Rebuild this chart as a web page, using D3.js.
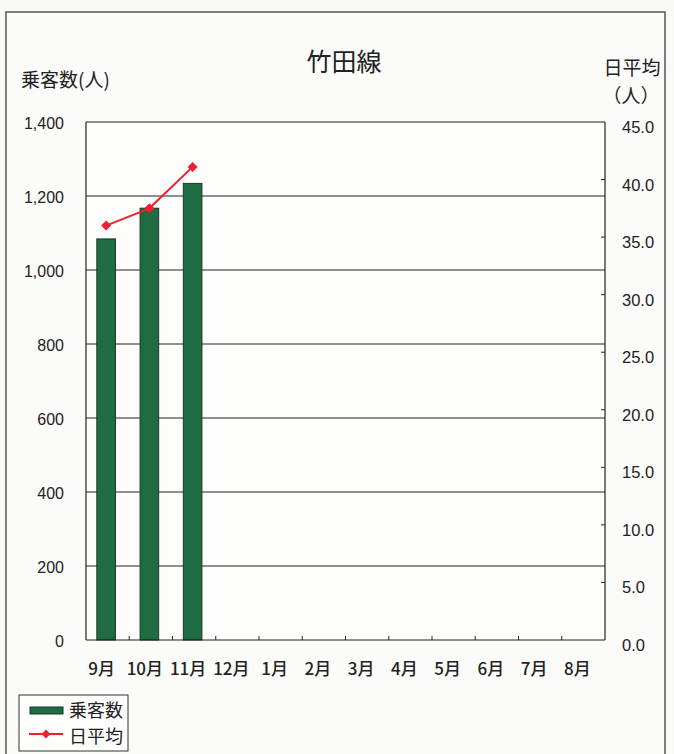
<!DOCTYPE html>
<html><head><meta charset="utf-8">
<script src="https://cdn.jsdelivr.net/npm/d3@7"></script>
<style>body{margin:0;background:#f8f8f6;}svg{display:block;}</style>
</head><body>
<svg id="c" width="674" height="754"></svg>
<script>
const months = ["9月","10月","11月","12月","1月","2月","3月","4月","5月","6月","7月","8月"];
const passengers = [1084, 1167, 1234, null, null, null, null, null, null, null, null, null];
const dailyAvg = [36.0, 37.5, 41.1, null, null, null, null, null, null, null, null, null];
const leftTicks = [0,200,400,600,800,1000,1200,1400];
const rightTicks = [0,5,10,15,20,25,30,35,40,45];

const svg = d3.select("#c");
const font = "'Liberation Sans', Arial, 'Noto Sans CJK JP', sans-serif";
const jfont = "'Noto Sans CJK JP', sans-serif";
const L = 86, R = 605, T = 122, B = 640;

// outer frame
svg.append("rect").attr("x",6).attr("y",12).attr("width",659).attr("height",760)
  .attr("fill","#fbfbf9").attr("stroke","#555").attr("stroke-width",1.5);

const x = d3.scaleBand().domain(months).range([L-3,R-3]).paddingInner(0.57).paddingOuter(0.285);
const xb = d3.scaleBand().domain(months).range([L,R]);
const yL = d3.scaleLinear().domain([0,1400]).range([B,T]);
const yR = d3.scaleLinear().domain([0,45]).range([B,T]);

svg.append("rect").attr("x",L).attr("y",T).attr("width",R-L).attr("height",B-T).attr("fill","#fdfdfc");

// gridlines
svg.append("g").selectAll("line").data(leftTicks.filter(d=>d>0)).join("line")
  .attr("x1",L).attr("x2",R).attr("y1",d=>yL(d)).attr("y2",d=>yL(d))
  .attr("stroke","#222").attr("stroke-width",1);

// bars
svg.append("g").selectAll("rect").data(months.map((m,i)=>({m,v:passengers[i]})).filter(d=>d.v!=null)).join("rect")
  .attr("x",d=>x(d.m)+1.5).attr("width",x.bandwidth())
  .attr("y",d=>yL(d.v)).attr("height",d=>B-yL(d.v))
  .attr("fill","#1f6b42").attr("stroke","#163a26").attr("stroke-width",1);

// axes lines
svg.append("line").attr("x1",L).attr("x2",L).attr("y1",T).attr("y2",B).attr("stroke","#222").attr("stroke-width",1.2);
svg.append("line").attr("x1",R).attr("x2",R).attr("y1",T).attr("y2",B).attr("stroke","#222").attr("stroke-width",1.2);
svg.append("line").attr("x1",L).attr("x2",R).attr("y1",B).attr("y2",B).attr("stroke","#222").attr("stroke-width",1.2);

// x ticks (inside) at band boundaries
svg.append("g").selectAll("line").data(months.slice(1)).join("line")
  .attr("x1",d=>xb(d)).attr("x2",d=>xb(d)).attr("y1",B).attr("y2",B-4)
  .attr("stroke","#222");
// right ticks inside
svg.append("g").selectAll("line").data(rightTicks.slice(1,-1)).join("line")
  .attr("x1",R-4).attr("x2",R).attr("y1",d=>yR(d)).attr("y2",d=>yR(d)).attr("stroke","#222");

// left tick labels
svg.append("g").selectAll("text").data(leftTicks).join("text")
  .attr("x",64).attr("y",d=>yL(d)+7).attr("text-anchor","end")
  .attr("font-family",font).attr("font-size",16).attr("fill","#222")
  .text(d=>d3.format(",")(d));
// right tick labels
svg.append("g").selectAll("text").data(rightTicks).join("text")
  .attr("x",622).attr("y",d=>yR(d)+11).attr("text-anchor","start")
  .attr("font-family",font).attr("font-size",16.5).attr("fill","#222")
  .text(d=>d.toFixed(1));
// x labels
svg.append("g").selectAll("text").data(months).join("text")
  .attr("x",d=>xb(d)+xb.bandwidth()/2-6).attr("y",675).attr("text-anchor","middle")
  .attr("font-family",jfont).attr("font-weight",500).attr("font-size",17).attr("fill","#222")
  .text(d=>d);

// line
const pts = months.map((m,i)=>({m,v:dailyAvg[i]})).filter(d=>d.v!=null);
const px = d=>x(d.m)+1.5+x.bandwidth()/2;
svg.append("path").datum(pts)
  .attr("d",d3.line().x(px).y(d=>yR(d.v)))
  .attr("fill","none").attr("stroke","#ee2030").attr("stroke-width",2);
svg.append("g").selectAll("path").data(pts).join("path")
  .attr("transform",d=>`translate(${px(d)},${yR(d.v)})`)
  .attr("d",d3.symbol(d3.symbolDiamond2,64)())
  .attr("fill","#ee2030");

// titles
svg.append("text").attr("x",344).attr("y",71).attr("text-anchor","middle")
  .attr("font-family",jfont).attr("font-size",25).attr("fill","#222").text("竹田線");
svg.append("text").attr("x",21).attr("y",87)
  .attr("font-family",jfont).attr("font-size",19).attr("fill","#222").text("乗客数(人)");
svg.append("text").attr("x",632).attr("y",75).attr("text-anchor","middle")
  .attr("font-family",jfont).attr("font-size",19).attr("fill","#222").text("日平均");
svg.append("text").attr("x",631).attr("y",103).attr("text-anchor","middle")
  .attr("font-family",jfont).attr("font-size",19).attr("fill","#222").text("（人）");

// legend
const lg = svg.append("g");
lg.append("rect").attr("x",19).attr("y",695).attr("width",109).attr("height",56)
  .attr("fill","#fdfdfc").attr("stroke","#333").attr("stroke-width",1);
lg.append("rect").attr("x",30).attr("y",707).attr("width",33).attr("height",7)
  .attr("fill","#1f6b42").attr("stroke","#163a26");
lg.append("text").attr("x",69).attr("y",717).attr("font-family",jfont).attr("font-size",18).attr("fill","#222").text("乗客数");
lg.append("line").attr("x1",29).attr("x2",63).attr("y1",734).attr("y2",734).attr("stroke","#ee2030").attr("stroke-width",2);
lg.append("path").attr("transform","translate(46,734)").attr("d",d3.symbol(d3.symbolDiamond2,50)()).attr("fill","#ee2030");
lg.append("text").attr("x",69).attr("y",743).attr("font-family",jfont).attr("font-size",18).attr("fill","#222").text("日平均");
</script>
</body></html>
